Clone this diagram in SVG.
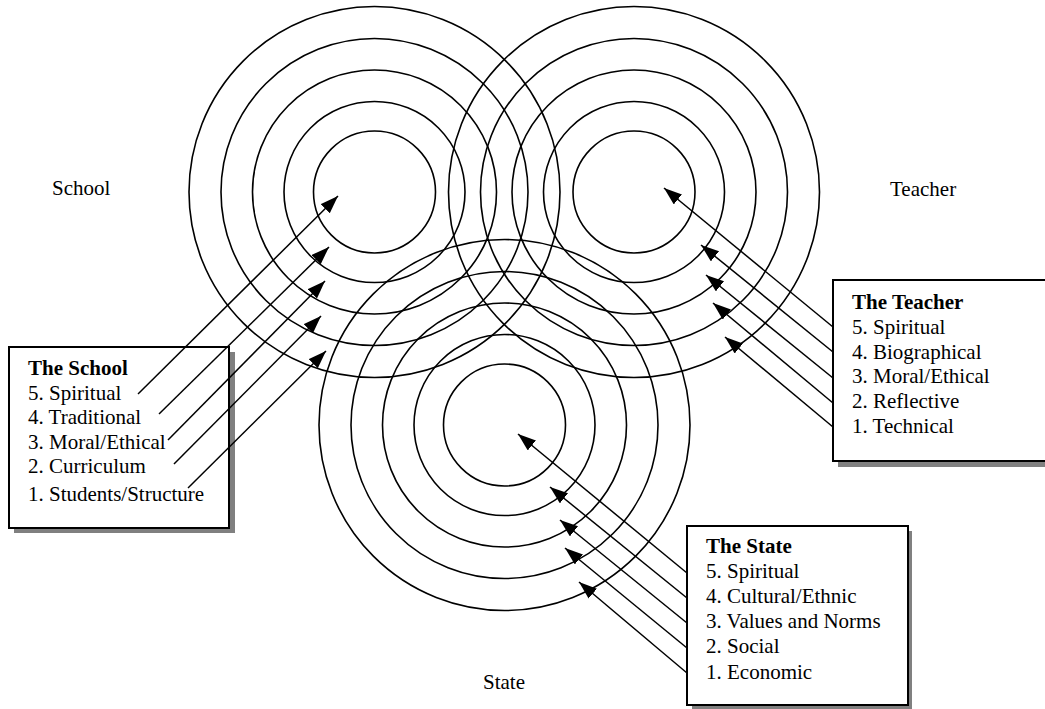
<svg xmlns="http://www.w3.org/2000/svg" width="1045" height="709" viewBox="0 0 1045 709">
<style>
.ring{fill:none;stroke:#000;stroke-width:1.6}
.arr{fill:none;stroke:#000;stroke-width:1.5;marker-end:url(#ah)}
.box{fill:#fff;stroke:#000;stroke-width:2}
.shadow{fill:#808080}
text{font-family:'Liberation Serif','Times New Roman',Times,serif;font-size:21px;fill:#000}
.b{font-weight:bold}
</style>
<defs>
<marker id="ah" markerUnits="userSpaceOnUse" markerWidth="20" markerHeight="14" refX="18" refY="6.5" orient="auto">
<path d="M0,0 L18,6.5 L0,13 z" fill="#000"/>
</marker>
</defs>
<rect width="1045" height="709" fill="#fff"/>
<g id="school-circles">
<circle class="ring" cx="374.5" cy="192" r="61"/>
<circle class="ring" cx="374.5" cy="192" r="90.5"/>
<circle class="ring" cx="374.5" cy="192" r="122"/>
<circle class="ring" cx="374.5" cy="192" r="153.5"/>
<circle class="ring" cx="374.5" cy="192" r="185.5"/>
</g>
<g id="teacher-circles">
<circle class="ring" cx="634" cy="192" r="61"/>
<circle class="ring" cx="634" cy="192" r="90.5"/>
<circle class="ring" cx="634" cy="192" r="122"/>
<circle class="ring" cx="634" cy="192" r="153.5"/>
<circle class="ring" cx="634" cy="192" r="185.5"/>
</g>
<g id="state-circles">
<circle class="ring" cx="504.5" cy="425" r="61"/>
<circle class="ring" cx="504.5" cy="425" r="90.5"/>
<circle class="ring" cx="504.5" cy="425" r="122"/>
<circle class="ring" cx="504.5" cy="425" r="153.5"/>
<circle class="ring" cx="504.5" cy="425" r="185.5"/>
</g>
<g id="labels" font-family="'Liberation Serif','Times New Roman',Times,serif">
<text x="52" y="195">School</text>
<text x="890" y="196">Teacher</text>
<text x="483" y="689">State</text>
</g>
<g id="school-box" font-family="'Liberation Serif','Times New Roman',Times,serif">
<rect class="shadow" x="14" y="352" width="221" height="181"/>
<rect class="box" x="9" y="347" width="220" height="181"/>
<text class="b" x="28" y="375">The School</text>
<text x="28" y="400">5. Spiritual</text>
<text x="28" y="424">4. Traditional</text>
<text x="28" y="449">3. Moral/Ethical</text>
<text x="28" y="473">2. Curriculum</text>
<text x="28" y="501">1. Students/Structure</text>
</g>
<g id="teacher-box" font-family="'Liberation Serif','Times New Roman',Times,serif">
<rect class="shadow" x="838" y="285" width="220" height="182"/>
<rect class="box" x="833" y="280" width="220" height="181"/>
<text class="b" x="852" y="309">The Teacher</text>
<text x="852" y="334">5. Spiritual</text>
<text x="852" y="359">4. Biographical</text>
<text x="852" y="383">3. Moral/Ethical</text>
<text x="852" y="408">2. Reflective</text>
<text x="852" y="433">1. Technical</text>
</g>
<g id="state-box" font-family="'Liberation Serif','Times New Roman',Times,serif">
<rect class="shadow" x="692" y="531" width="220" height="180"/>
<rect class="box" x="687" y="526" width="221" height="179"/>
<text class="b" x="706" y="553">The State</text>
<text x="706" y="578">5. Spiritual</text>
<text x="706" y="603">4. Cultural/Ethnic</text>
<text x="706" y="628">3. Values and Norms</text>
<text x="706" y="653">2. Social</text>
<text x="706" y="679">1. Economic</text>
</g>
<g id="connectors">
<line class="arr" x1="138" y1="394" x2="338" y2="196"/>
<line class="arr" x1="159" y1="414" x2="329" y2="247"/>
<line class="arr" x1="168" y1="440" x2="325" y2="281"/>
<line class="arr" x1="174" y1="464" x2="321" y2="316"/>
<line class="arr" x1="188" y1="488" x2="326" y2="351"/>
<line class="arr" x1="833" y1="327" x2="664" y2="188"/>
<line class="arr" x1="833" y1="352" x2="701" y2="245"/>
<line class="arr" x1="833" y1="378" x2="706" y2="275"/>
<line class="arr" x1="833" y1="403" x2="713" y2="303"/>
<line class="arr" x1="833" y1="427" x2="725" y2="337"/>
<line class="arr" x1="687" y1="573" x2="518" y2="434"/>
<line class="arr" x1="687" y1="598" x2="550" y2="487"/>
<line class="arr" x1="687" y1="623" x2="560" y2="520"/>
<line class="arr" x1="687" y1="648" x2="565" y2="548"/>
<line class="arr" x1="687" y1="673" x2="579" y2="582"/>
</g>
</svg>
